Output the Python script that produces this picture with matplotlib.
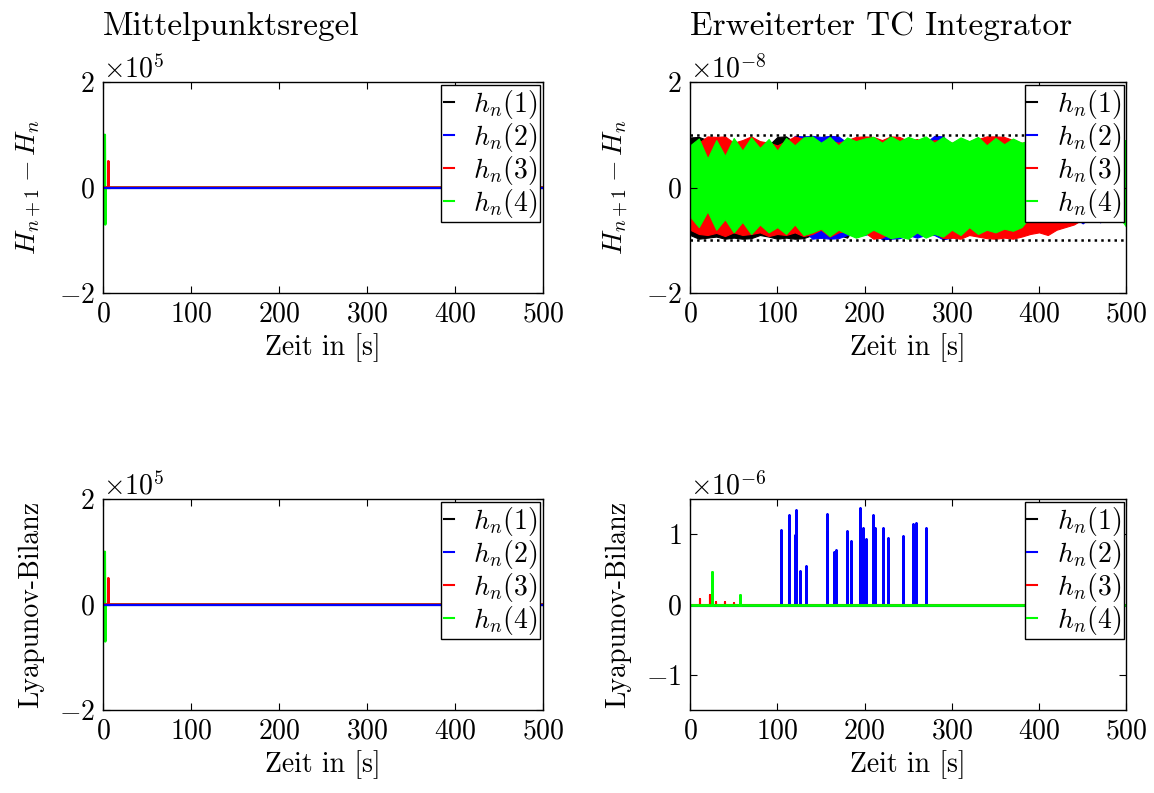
import numpy as np
import matplotlib
matplotlib.use('Agg')
import matplotlib.pyplot as plt
from matplotlib.lines import Line2D

plt.rcParams['font.family'] = 'serif'
plt.rcParams['font.serif'] = ['cmr10']
plt.rcParams['mathtext.fontset'] = 'cm'
plt.rcParams['axes.formatter.use_mathtext'] = True
plt.rcParams['font.size'] = 20

# colours / labels of the four series
colors = ['#000000', '#0000ff', '#ff0000', '#00ff00']
labels = ['$h_n(1)$', '$h_n(2)$', '$h_n(3)$', '$h_n(4)$']

# --- Mittelpunktsregel (both rows look the same), values in 1e5
mp_k_t = [0, 500];            mp_k_v = [0, 0]
mp_b_t = [0, 500];            mp_b_v = [0, 0]
mp_r_t = [0, 6, 6, 6.5, 500]; mp_r_v = [0, 0, 0.5, 0, 0]
mp_g_t = [0, 2, 2.5, 3, 500]; mp_g_v = [0, 1.0, -0.7, 0, 0]

# --- Erweiterter TC Integrator, H_{n+1}-H_n
# envelope of the fast oscillation (max / min), every 10 s, values in 1e-8
tc_t = np.arange(0, 501, 10)
k_hi = [.95, .96, .90, .85, .93, .80, .85, .80, .75, .80,
        .96, .97, .85, .90, .80] + [.70] * 36
k_lo = [-.90, -.97, -.95, -.93, -.97, -.95, -.97, -.96, -.90, -.93,
        -.97, -.95, -.97, -.96, -.90, -.95, -.88, -.90, -.95] + [-.70] * 21 + [-.50] * 11
b_hi = [.75] * 12 + [.98, .97, .98, .96, .98, .97] + [.85] * 10 + [.98, .97] + [.80] * 21
b_lo = [-.80] * 14 + [-.97, -.95, -.97, -.96, -.90, -.85, -.90, -.85, -.98, -.97,
                      -.96, -.90, -.95, -.90, -.90, -.98, -.95] + [-.70] * 13 \
       + [-.55, -.68, -.55, -.66, -.50, -.50, -.50]
r_hi = [.70, .85, .97, .96, .97, .85, .90, .97, .88, .85,
        .80, .88, .97, .92, .85, .80, .88, .85, .90, .96,
        .97, .96, .90, .97, .96, .88, .92, .85, .90, .88,
        .85, .90, .88, .92, .97, .97, .96, .90, .85] + [.85] * 12
r_lo = [-.80, -.88, -.90, -.86, -.92, -.85, -.90, -.88, -.85, -.92,
        -.88, -.90, -.85, -.92, -.88, -.80, -.93, -.85, -.82, -.90,
        -.85, -.97, -.95, -.85, -.80, -.88, -.85, -.90, -.85, -.96,
        -.95, -.97, -.90, -.93, -.96, -.97, -.95, -.97, -.93, -.88,
        -.85, -.90, -.80, -.75, -.70, -.60, -.50, -.50, -.50, -.50, -.50]
g_hi = [.80, .93, .55, .90, .60, .94, .70, .95, .75, .92,
        .70, .94, .80, .95, .97, .85, .96, .80, .95, .88,
        .93, .96, .85, .97, .88, .96, .90, .97, .85, .96,
        .85, .95, .88, .96, .80, .94, .82, .93, .85, .90] + [.90] * 11
g_lo = [-.55, -.75, -.45, -.80, -.60, -.85, -.65, -.88, -.70, -.85,
        -.75, -.88, -.70, -.90, -.85, -.78, -.92, -.80, -.88, -.95,
        -.90, -.80, -.88, -.96, -.93, -.97, -.85, -.95, -.88, -.93,
        -.80, -.90, -.75, -.88, -.80, -.85, -.78, -.82, -.75, -.55] + [-.50] * 10 + [-.75]
tc_bound = 1.0

# --- Erweiterter TC Integrator, Lyapunov-Bilanz, spikes, values in 1e-6
ly_b_times = [104.4, 113.9, 120.0, 121.9, 126.5, 133.0, 156.7, 165.5, 167.8, 179.3, 185.0,
              194.2, 198.0, 201.1, 210.2, 212.5, 220.6, 227.4, 243.5, 255.0, 258.8, 270.6]
ly_b_peaks = [1.06, 1.27, 0.99, 1.35, 0.48, 0.55, 1.29, 0.75, 0.77, 1.05, 0.91,
              1.37, 1.09, 0.93, 1.28, 1.09, 1.09, 0.94, 0.98, 1.15, 1.16, 1.09]
ly_r_times = [11.5, 22.9, 30.0, 40.0, 50.0]
ly_r_peaks = [0.08, 0.13, 0.03, 0.03, 0.02]
ly_g_times = [25.6, 57.0]
ly_g_peaks = [0.46, 0.14]
ly_k_level = -0.02


def spikes(times, peaks, base=0.0, t_end=500):
    x, y = [0], [base]
    for t, p in zip(times, peaks):
        x += [t, t, t]
        y += [base, p, base]
    x.append(t_end)
    y.append(base)
    return x, y


def style(ax, ylim, yticks, scale):
    ax.set_xlim(0, 500)
    ax.set_xticks([0, 100, 200, 300, 400, 500])
    ax.set_ylim(ylim[0] * scale, ylim[1] * scale)
    ax.set_yticks([v * scale for v in yticks])
    ax.ticklabel_format(axis='y', style='sci', scilimits=(0, 0))
    ax.tick_params(direction='in', top=True, right=True, length=5, width=0.8, pad=6)
    for s in ax.spines.values():
        s.set_linewidth(1.0)
    ax.set_xlabel('Zeit in [s]', labelpad=4)
    ax.yaxis.set_label_coords(-0.135, 0.5)
    handles = [Line2D([], [], color=c, lw=1.5) for c in colors]
    leg = ax.legend(handles, labels, loc='upper right', borderaxespad=0.1,
                    handlelength=0.35, handletextpad=0.7, borderpad=0.1,
                    labelspacing=0.0, fancybox=False, framealpha=1, edgecolor='k')
    leg.get_frame().set_linewidth(1.0)
    leg.set_zorder(10)


fig = plt.figure(figsize=(11.54, 7.93), dpi=100)
ax1 = fig.add_axes([0.0893, 0.6305, 0.3813, 0.266])
ax2 = fig.add_axes([0.598, 0.6305, 0.378, 0.266])
ax3 = fig.add_axes([0.0893, 0.1047, 0.3813, 0.266])
ax4 = fig.add_axes([0.598, 0.1047, 0.378, 0.266])

# left column
for ax in (ax1, ax3):
    s = 1e5
    ax.plot(mp_k_t, np.array(mp_k_v) * s, color=colors[0], lw=1.5)
    ax.plot(mp_g_t, np.array(mp_g_v) * s, color=colors[3], lw=1.8)
    ax.plot(mp_r_t, np.array(mp_r_v) * s, color=colors[2], lw=1.8)
    ax.plot(mp_b_t, np.array(mp_b_v) * s, color=colors[1], lw=1.6)
    style(ax, (-2, 2), [-2, 0, 2], s)

ax1.set_title('Mittelpunktsregel', loc='left', pad=34)
ax1.set_ylabel('$H_{n+1} - H_n$')
ax3.set_ylabel('Lyapunov-Bilanz')

# top right: the oscillation is too dense to resolve, draw its envelope
s = 1e-8
for hi, lo, c in [(k_hi, k_lo, colors[0]), (b_hi, b_lo, colors[1]),
                  (r_hi, r_lo, colors[2]), (g_hi, g_lo, colors[3])]:
    ax2.fill_between(tc_t, np.array(lo) * s, np.array(hi) * s, color=c, lw=0.8, edgecolor=c)
ax2.plot([0, 500], [tc_bound * s] * 2, 'k:', lw=1.8)
ax2.plot([0, 500], [-tc_bound * s] * 2, 'k:', lw=1.8)
style(ax2, (-2, 2), [-2, 0, 2], s)
ax2.set_title('Erweiterter TC Integrator', loc='left', pad=34)
ax2.set_ylabel('$H_{n+1} - H_n$')

# bottom right
s = 1e-6
x, y = spikes([], [], base=ly_k_level)
ax4.plot(x, np.array(y) * s, color=colors[0], lw=1.5)
x, y = spikes(ly_b_times, ly_b_peaks)
ax4.plot(x, np.array(y) * s, color=colors[1], lw=1.8)
x, y = spikes(ly_r_times, ly_r_peaks)
ax4.plot(x, np.array(y) * s, color=colors[2], lw=1.5)
x, y = spikes(ly_g_times, ly_g_peaks)
ax4.plot(x, np.array(y) * s, color=colors[3], lw=2)
style(ax4, (-1.5, 1.5), [-1, 0, 1], s)
ax4.set_ylabel('Lyapunov-Bilanz')

fig.savefig('out.png', dpi=100)
